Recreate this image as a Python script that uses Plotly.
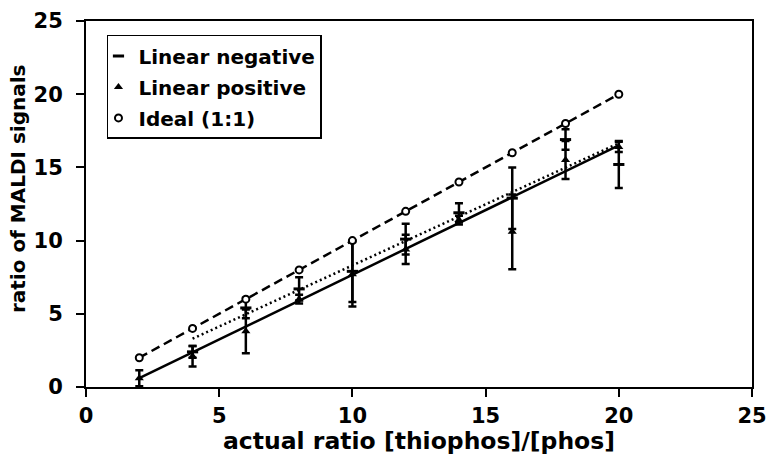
import plotly.graph_objects as go

# ---- data ----
x_all = [2, 4, 6, 8, 10, 12, 14, 16, 18, 20]

ideal_y = [2, 4, 6, 8, 10, 12, 14, 16, 18, 20]

pos_y = [0.6, 2.1, 3.8, 6.0, 7.7, 9.4, 11.4, 10.6, 15.5, 16.4]
pos_err = [0.55, 0.7, 1.5, 0.3, 2.2, 1.0, 0.3, 2.55, 1.3, 0.35]

neg_x = [4, 6, 8, 10, 12, 14, 16, 18, 20]
neg_y = [2.4, 5.4, 6.7, 7.9, 10.1, 11.9, 12.9, 16.9, 15.2]
neg_err = [0.4, 0.7, 0.8, 2.1, 1.05, 0.65, 2.1, 0.7, 1.6]

# trend lines (end points)
trend_pos_x = [2, 20]
trend_pos_y = [0.6, 16.5]
trend_neg_x = [4, 20]
trend_neg_y = [3.3, 16.65]

x_ticks = [0, 5, 10, 15, 20, 25]
y_ticks = [0, 5, 10, 15, 20, 25]

FONT = "DejaVu Sans"
BLACK = "black"

fig = go.Figure()

# trend lines / ideal line (no legend)
fig.add_trace(go.Scatter(x=trend_pos_x, y=trend_pos_y, mode="lines",
                         line=dict(color=BLACK, width=2.5), showlegend=False,
                         hoverinfo="skip"))
fig.add_trace(go.Scatter(x=trend_neg_x, y=trend_neg_y, mode="lines",
                         line=dict(color=BLACK, width=2.5, dash="2px,3px"),
                         showlegend=False, hoverinfo="skip"))
fig.add_trace(go.Scatter(x=x_all, y=ideal_y, mode="lines",
                         line=dict(color=BLACK, width=2.5, dash="9px,5px"),
                         showlegend=False, hoverinfo="skip"))

# data series
fig.add_trace(go.Scatter(
    x=neg_x, y=neg_y, mode="markers", name="Linear negative",
    marker=dict(symbol="line-ew", size=8, color=BLACK,
                line=dict(color=BLACK, width=3)),
    error_y=dict(type="data", array=neg_err, visible=True, color=BLACK,
                 thickness=2.5, width=4),
    legendrank=1, legendgroup="a"))
fig.add_trace(go.Scatter(
    x=x_all, y=pos_y, mode="markers", name="Linear positive",
    marker=dict(symbol="triangle-up", size=8, color=BLACK),
    error_y=dict(type="data", array=pos_err, visible=True, color=BLACK,
                 thickness=2.5, width=4),
    legendrank=2, legendgroup="b"))
fig.add_trace(go.Scatter(
    x=x_all, y=ideal_y, mode="markers", name="Ideal (1:1)",
    marker=dict(symbol="circle", size=7, color="white",
                line=dict(color=BLACK, width=2)),
    legendrank=3, legendgroup="c"))

axis_common = dict(
    showline=True, linecolor=BLACK, linewidth=2, mirror=True,
    ticks="outside", ticklen=8, tickwidth=2, tickcolor=BLACK,
    showgrid=False, zeroline=False, ticklabeloverflow="allow",
    automargin=False,
    tickfont=dict(family=FONT, size=21, color=BLACK, weight="bold"),
)

fig.update_xaxes(range=[0, 25], tickvals=x_ticks, ticklabelstandoff=1,
                 **axis_common)
fig.update_yaxes(range=[0, 25], tickvals=y_ticks, ticklabelstandoff=9,
                 **axis_common)

fig.update_layout(
    width=766, height=460,
    margin=dict(l=86, r=14, t=21, b=73),
    paper_bgcolor="white", plot_bgcolor="white",
    font=dict(family=FONT, size=20, color=BLACK),
    legend=dict(
        x=0.0315, y=0.962, xanchor="left", yanchor="top",
        bordercolor=BLACK, borderwidth=1.5, bgcolor="white",
        font=dict(family=FONT, size=20, color=BLACK, weight="bold"),
        itemwidth=30, indentation=-10, tracegroupgap=2,
        traceorder="grouped",
    ),
    annotations=[
        dict(text="actual ratio [thiophos]/[phos]", xref="paper", yref="paper",
             x=0.5, y=-0.1475, xanchor="center", yanchor="middle",
             showarrow=False,
             font=dict(family=FONT, size=23.5, color=BLACK, weight="bold")),
        dict(text="ratio of MALDI signals", xref="paper", yref="paper",
             x=-0.102, y=0.541, xanchor="center", yanchor="middle",
             textangle=-90, showarrow=False,
             font=dict(family=FONT, size=20, color=BLACK, weight="bold")),
    ],
)

fig.write_html("out.html")
